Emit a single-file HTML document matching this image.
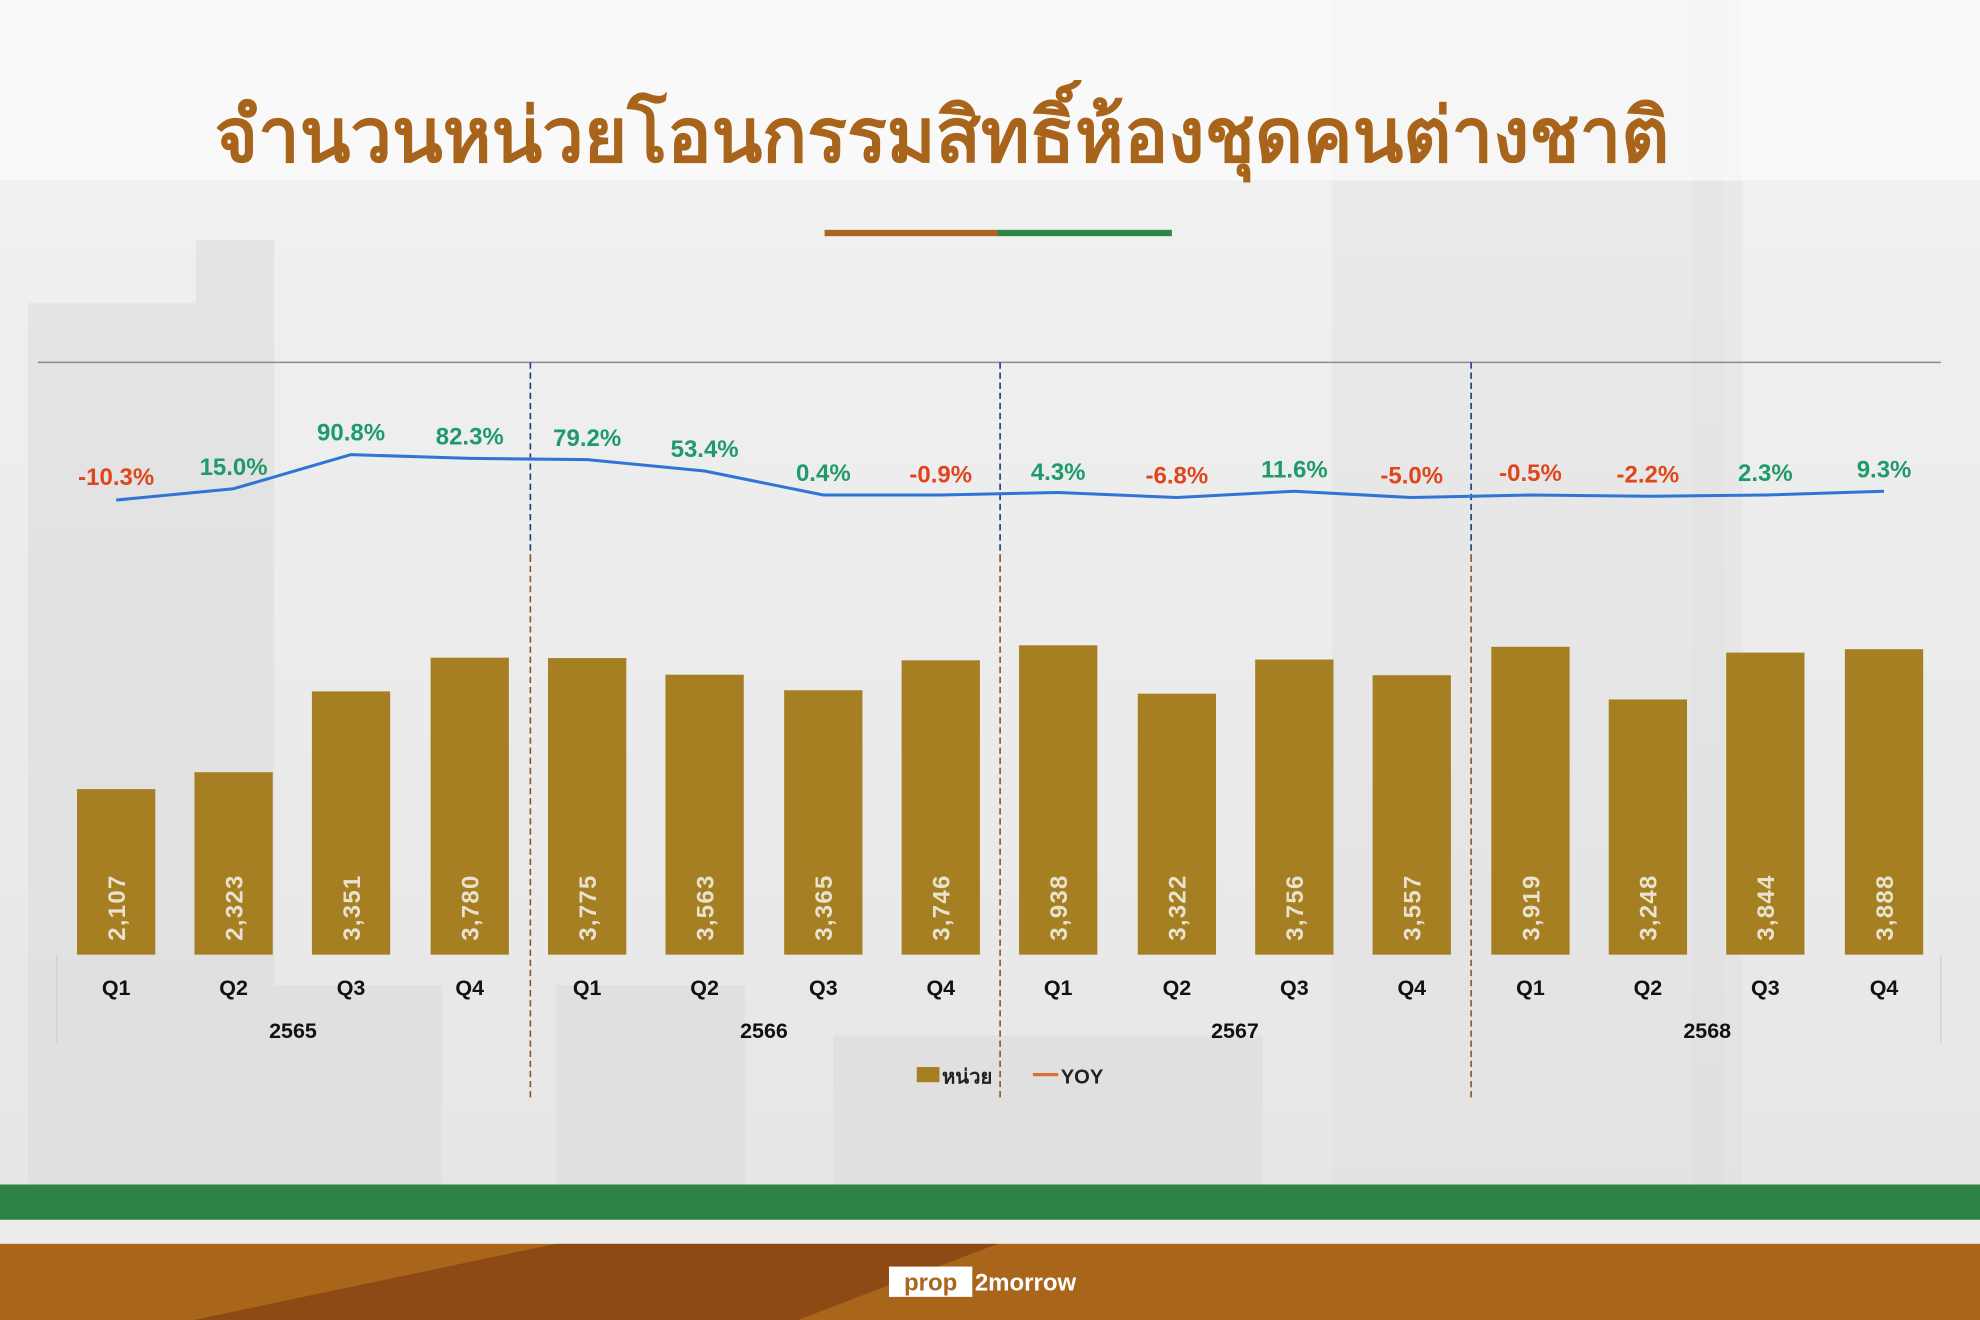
<!DOCTYPE html>
<html><head><meta charset="utf-8"><style>
html,body{margin:0;padding:0;background:#fff;}
svg{display:block;}
</style></head><body>
<svg width="1980" height="1320" viewBox="0 0 1568 1045.3" preserveAspectRatio="none" xmlns="http://www.w3.org/2000/svg" font-family="Liberation Sans, DejaVu Sans, sans-serif">
<defs>
<linearGradient id="bg" x1="0" y1="0" x2="0" y2="1">
<stop offset="0" stop-color="#f0f0f0"/><stop offset="1" stop-color="#e6e6e6"/>
</linearGradient>
</defs>
<rect x="0" y="0" width="1568" height="1045.3" fill="#f7f7f7"/>
<rect x="0" y="143" width="1568" height="842" fill="url(#bg)"/>
<g fill="#d8d8d8" opacity="0.5">
<rect x="22" y="240" width="150" height="700"/>
<rect x="155" y="190" width="62" height="750"/>
<rect x="1055" y="0" width="310" height="940" opacity="0.5"/>
<rect x="1340" y="0" width="40" height="940" opacity="0.6"/>
<rect x="180" y="780" width="170" height="160"/>
<rect x="440" y="780" width="150" height="160"/>
<rect x="660" y="820" width="340" height="120"/>
</g>
<rect x="0" y="0" width="1568" height="143" fill="#fafafa" opacity="0.7"/>
<text x="170" y="128" textLength="1152" lengthAdjust="spacingAndGlyphs" font-family="Liberation Sans, Noto Sans CJK SC, DejaVu Sans, sans-serif" font-size="60" font-weight="bold" fill="#a8641a">จำนวนหน่วยโอนกรรมสิทธิ์ห้องชุดคนต่างชาติ</text>
<rect x="653" y="182" width="137" height="5" fill="#ad6422"/>
<rect x="790" y="182" width="138" height="5" fill="#2f8447"/>
<line x1="30" y1="287" x2="1537" y2="287" stroke="#8a8a8a" stroke-width="1.2"/>
<line x1="45" y1="756" x2="45" y2="826" stroke="#cfcfcf" stroke-width="1"/>
<line x1="1537" y1="756" x2="1537" y2="826" stroke="#cfcfcf" stroke-width="1"/>
<g stroke-width="1.3" stroke-dasharray="5,3">
<line x1="420" y1="287" x2="420" y2="440" stroke="#1f3f7a"/>
<line x1="420" y1="440" x2="420" y2="870" stroke="#8a5a2a"/>
<line x1="792" y1="287" x2="792" y2="440" stroke="#1f3f7a"/>
<line x1="792" y1="440" x2="792" y2="870" stroke="#8a5a2a"/>
<line x1="1165" y1="287" x2="1165" y2="440" stroke="#1f3f7a"/>
<line x1="1165" y1="440" x2="1165" y2="870" stroke="#8a5a2a"/>
</g>
<g fill="#a57f22">
<rect x="61" y="624.9" width="62" height="131.1"/>
<rect x="154" y="611.5" width="62" height="144.5"/>
<rect x="247" y="547.5" width="62" height="208.5"/>
<rect x="341" y="520.8" width="62" height="235.2"/>
<rect x="434" y="521.1" width="62" height="234.9"/>
<rect x="527" y="534.3" width="62" height="221.7"/>
<rect x="621" y="546.6" width="62" height="209.4"/>
<rect x="714" y="522.9" width="62" height="233.1"/>
<rect x="807" y="511" width="62" height="245"/>
<rect x="901" y="549.3" width="62" height="206.7"/>
<rect x="994" y="522.3" width="62" height="233.7"/>
<rect x="1087" y="534.7" width="62" height="221.3"/>
<rect x="1181" y="512.2" width="62" height="243.8"/>
<rect x="1274" y="553.9" width="62" height="202.1"/>
<rect x="1367" y="516.8" width="62" height="239.2"/>
<rect x="1461" y="514.1" width="62" height="241.9"/>
</g>
<g fill="#e9e2cf" font-size="19" font-weight="bold" letter-spacing="1">
<text transform="translate(99,745) rotate(-90)">2,107</text>
<text transform="translate(192,745) rotate(-90)">2,323</text>
<text transform="translate(285,745) rotate(-90)">3,351</text>
<text transform="translate(379,745) rotate(-90)">3,780</text>
<text transform="translate(472,745) rotate(-90)">3,775</text>
<text transform="translate(565,745) rotate(-90)">3,563</text>
<text transform="translate(659,745) rotate(-90)">3,365</text>
<text transform="translate(752,745) rotate(-90)">3,746</text>
<text transform="translate(845,745) rotate(-90)">3,938</text>
<text transform="translate(939,745) rotate(-90)">3,322</text>
<text transform="translate(1032,745) rotate(-90)">3,756</text>
<text transform="translate(1125,745) rotate(-90)">3,557</text>
<text transform="translate(1219,745) rotate(-90)">3,919</text>
<text transform="translate(1312,745) rotate(-90)">3,248</text>
<text transform="translate(1405,745) rotate(-90)">3,844</text>
<text transform="translate(1499,745) rotate(-90)">3,888</text>
</g>
<polyline fill="none" stroke="#2f74d6" stroke-width="2.4" stroke-linejoin="round" points="92,396 185,387 278,360 372,363 465,364 558,373 652,392 745,392 838,390 932,394 1025,389 1118,394 1212,392 1305,393 1398,392 1492,389"/>
<g font-size="19" font-weight="bold" text-anchor="middle">
<text x="92" y="384" fill="#e0461c">-10.3%</text>
<text x="185" y="376" fill="#1f9b6b">15.0%</text>
<text x="278" y="349" fill="#1f9b6b">90.8%</text>
<text x="372" y="352" fill="#1f9b6b">82.3%</text>
<text x="465" y="353" fill="#1f9b6b">79.2%</text>
<text x="558" y="362" fill="#1f9b6b">53.4%</text>
<text x="652" y="381" fill="#1f9b6b">0.4%</text>
<text x="745" y="382" fill="#e0461c">-0.9%</text>
<text x="838" y="380" fill="#1f9b6b">4.3%</text>
<text x="932" y="383" fill="#e0461c">-6.8%</text>
<text x="1025" y="378" fill="#1f9b6b">11.6%</text>
<text x="1118" y="383" fill="#e0461c">-5.0%</text>
<text x="1212" y="381" fill="#e0461c">-0.5%</text>
<text x="1305" y="382" fill="#e0461c">-2.2%</text>
<text x="1398" y="381" fill="#1f9b6b">2.3%</text>
<text x="1492" y="378" fill="#1f9b6b">9.3%</text>
</g>
<g font-size="17" font-weight="bold" fill="#111" text-anchor="middle">
<text x="92" y="788">Q1</text><text x="185" y="788">Q2</text><text x="278" y="788">Q3</text><text x="372" y="788">Q4</text>
<text x="465" y="788">Q1</text><text x="558" y="788">Q2</text><text x="652" y="788">Q3</text><text x="745" y="788">Q4</text>
<text x="838" y="788">Q1</text><text x="932" y="788">Q2</text><text x="1025" y="788">Q3</text><text x="1118" y="788">Q4</text>
<text x="1212" y="788">Q1</text><text x="1305" y="788">Q2</text><text x="1398" y="788">Q3</text><text x="1492" y="788">Q4</text>
<text x="232" y="822">2565</text><text x="605" y="822">2566</text><text x="978" y="822">2567</text><text x="1352" y="822">2568</text>
</g>
<rect x="726" y="845" width="18" height="12" fill="#a57f22"/>
<text x="746" y="858" font-family="Liberation Sans, Noto Sans CJK SC, sans-serif" font-size="16" font-weight="bold" fill="#222">หน่วย</text>
<line x1="818" y1="851" x2="838" y2="851" stroke="#d9703a" stroke-width="2.5"/>
<text x="840" y="858" font-size="16" font-weight="bold" fill="#222">YOY</text>
<rect x="0" y="938" width="1568" height="28" fill="#2e8346"/>
<rect x="0" y="966" width="1568" height="19" fill="#ececec"/>
<rect x="0" y="985" width="1568" height="61" fill="#a9651a"/>
<polygon points="440,985 790,985 630,1046 150,1046" fill="#8e4a14"/>
<rect x="704" y="1003" width="66" height="24" fill="#fff"/>
<text x="737" y="1022" text-anchor="middle" font-size="19" font-weight="bold" fill="#a9651a">prop</text>
<text x="772" y="1022" font-size="19" font-weight="bold" fill="#fff">2morrow</text>
</svg>
</body></html>
